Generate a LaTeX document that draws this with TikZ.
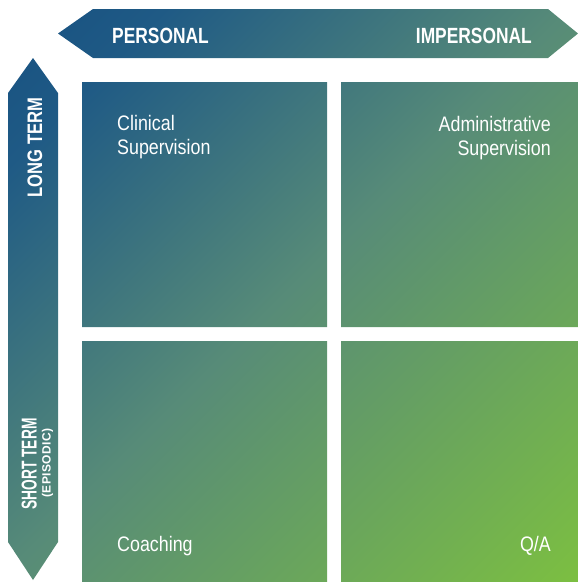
\documentclass[tikz,border=0pt]{standalone}
\usepackage{fontspec}
\setmainfont{Liberation Sans}
\newfontfamily\hdrfont[FakeStretch=0.79]{Liberation Sans}
\newfontfamily\shortfont[FakeStretch=0.64]{Liberation Sans}
\newfontfamily\epfont[LetterSpace=4]{Liberation Sans}
\newfontfamily\lblfont[FakeStretch=0.85]{Liberation Sans}
\definecolor{cA}{HTML}{164F80}
\definecolor{cB}{HTML}{1F5A85}
\definecolor{cC}{HTML}{578B78}
\definecolor{cD}{HTML}{7CBF41}
\pgfdeclarehorizontalshading{diag}{100bp}{color(0bp)=(cA); color(25bp)=(cA); color(32.5bp)=(cB); color(50bp)=(cC); color(75bp)=(cD); color(100bp)=(cD)}
\begin{document}
\begin{tikzpicture}[x=1pt,y=-1pt,
  hdr/.style={text=white,inner sep=0pt,font=\hdrfont\bfseries\fontsize{22}{26}\selectfont},
  side/.style={text=white,inner sep=0pt,rotate=90,font=\hdrfont\bfseries\fontsize{21}{25}\selectfont},
  lbl/.style={text=white,inner sep=0pt,font=\lblfont\fontsize{21}{25}\selectfont}]
\useasboundingbox (0,0) rectangle (578,582);
\begin{scope}
\clip (58,33.5) -- (93,9) -- (548,9) -- (578,33.5) -- (548,58) -- (93,58) -- cycle
  (33,58) -- (58,93) -- (58,542) -- (33,580) -- (8,542) -- (8,93) -- cycle
  (82,82) rectangle (327,327) (341,82) rectangle (578,327)
  (82,341) rectangle (327,582) (341,341) rectangle (578,582);
\begin{scope}[transform canvas={rotate around={-45:(289,291)}}]
\shade[shading=diag] (-121,-159) rectangle (699,741);
\end{scope}
\end{scope}
\node[hdr,anchor=base west] (personal) at (112,43) {PERSONAL};
\node[hdr,anchor=base east] (impersonal) at (532,43) {IMPERSONAL};
\node[side,anchor=base] (long) at (42,147.5) {LONG TERM};
\node[side,anchor=base,font=\shortfont\bfseries\fontsize{21.5}{25}\selectfont] (short) at (36.5,464) {SHORT TERM};
\node[side,anchor=base,font=\epfont\bfseries\fontsize{12}{14}\selectfont] (epis) at (50.5,463) {(EPISODIC)};
\node[lbl,anchor=base west] (clin1) at (117,130) {Clinical};
\node[lbl,anchor=base west] (clin2) at (117,154) {Supervision};
\node[lbl,anchor=base east] (adm1) at (551,131) {Administrative};
\node[lbl,anchor=base east] (adm2) at (551,155) {Supervision};
\node[lbl,anchor=base west] (coach) at (117,551) {Coaching};
\node[lbl,anchor=base east] (qa) at (551,551) {Q/A};
\end{tikzpicture}
\end{document}
